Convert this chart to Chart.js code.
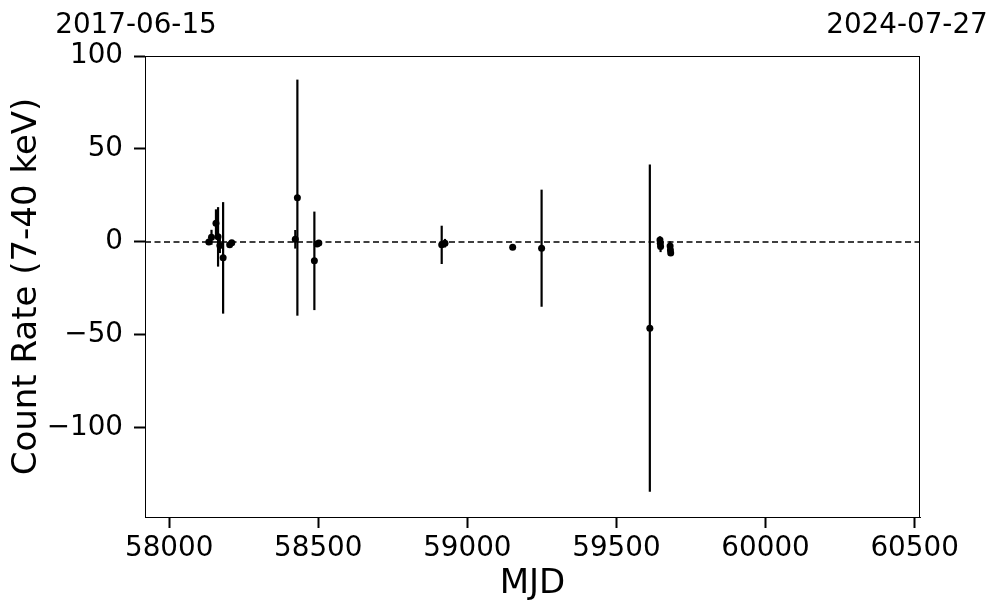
<!DOCTYPE html>
<html>
<head>
<meta charset="utf-8">
<script src="https://cdn.jsdelivr.net/npm/chart.js@4/dist/chart.umd.min.js"></script>
<style>
  html, body { margin: 0; padding: 0; background: #fff; }
  #wrap { width: 997px; height: 613px; }
</style>
</head>
<body>
<div id="wrap"><canvas id="lc"></canvas></div>
<script>
// light curve values
const mjd  = [58133, 58142, 58157, 58164, 58170, 58181, 58203, 58210,
              58423, 58430, 58487, 58496, 58502,
              58914, 58925, 59152, 59249,
              59612, 59646, 59647, 59648, 59680, 59681, 59682];
const rate = [0.0, 2.5, 10.0, 2.7, -2.0, -8.6, -1.5, -0.5,
              1.4, 23.8, -10.2, -1.2, -0.6,
              -1.6, -0.7, -2.9, -3.4,
              -46.4, 1.0, -0.7, -2.5, -2.2, -4.3, -6.0];
const err  = [1.5, 4, 7.5, 16, 4, 30, 1, 1,
              5, 63.5, 26.5, 1, 1,
              10.3, 2.3, 0.8, 31.5,
              88, 2, 3, 3, 2.5, 3, 1.5];
const xTicks = [58000, 58500, 59000, 59500, 60000, 60500];
const yTicks = [-100, -50, 0, 50, 100];
const xRange = [57919, 60518];
const yRange = [-148, 100];
const dateLabels = ['2017-06-15', '2024-07-27'];

const FONT = "'DejaVu Sans', sans-serif";

const points = mjd.map((m, i) => ({ x: m, y: rate[i] }));

// one small line dataset per error bar
const errBars = mjd.map((m, i) => ({
  type: 'scatter',
  showLine: true,
  data: [{ x: m, y: rate[i] - err[i] }, { x: m, y: rate[i] + err[i] }],
  borderColor: '#000',
  borderWidth: 2.2,
  pointRadius: 0
}));

const zeroLine = {
  type: 'scatter',
  showLine: true,
  data: [{ x: xRange[0], y: 0 }, { x: xRange[1], y: 0 }],
  borderColor: '#000',
  borderWidth: 1.5,
  borderDash: [6, 3.5],
  pointRadius: 0
};

// frame round the plot + the two date labels at the top
const extras = {
  id: 'extras',
  afterDraw(chart) {
    const { ctx, chartArea: a } = chart;
    ctx.save();
    ctx.strokeStyle = '#000';
    ctx.lineWidth = 1;
    ctx.strokeRect(a.left + 0.5, a.top + 0.5, a.right - a.left - 1, a.bottom - a.top);
    ctx.fillStyle = '#000';
    ctx.font = "27.8px " + FONT;
    ctx.textBaseline = 'alphabetic';
    ctx.textAlign = 'center';
    ctx.fillText(dateLabels[0], a.left - 9, 33);
    ctx.fillText(dateLabels[1], a.right - 13, 33);
    ctx.restore();
  }
};

new Chart(document.getElementById('lc'), {
  type: 'scatter',
  data: {
    datasets: [
      {
        data: points,
        backgroundColor: '#000',
        borderColor: '#000',
        pointRadius: 3.5,
        pointBorderWidth: 0
      },
      ...errBars,
      zeroLine
    ]
  },
  options: {
    responsive: true,
    maintainAspectRatio: false,
    animation: false,
    layout: { padding: { left: 0, top: 56, right: 77, bottom: 0 } },
    plugins: { legend: { display: false }, tooltip: { enabled: false } },
    scales: {
      x: {
        type: 'linear',
        min: xRange[0],
        max: xRange[1],
        afterBuildTicks: s => { s.ticks = xTicks.map(v => ({ value: v })); },
        afterFit: s => { s.height = 96; },
        grid: { drawOnChartArea: false, tickLength: 11, tickWidth: 2, tickColor: '#000' },
        border: { color: '#000', width: 1 },
        ticks: {
          color: '#000',
          font: { family: FONT, size: 27.8 },
          padding: 4,
          maxRotation: 0,
          callback: v => String(v)
        },
        title: {
          display: true,
          text: 'MJD',
          color: '#000',
          font: { family: FONT, size: 34 },
          padding: { top: 0, bottom: 8 }
        }
      },
      y: {
        min: yRange[0],
        max: yRange[1],
        afterBuildTicks: s => { s.ticks = yTicks.map(v => ({ value: v })); },
        afterFit: s => { s.width = 145; },
        grid: { drawOnChartArea: false, tickLength: 11, tickWidth: 2, tickColor: '#000' },
        border: { color: '#000', width: 1 },
        ticks: {
          color: '#000',
          font: { family: FONT, size: 27.8 },
          padding: 11,
          callback: v => String(v).replace('-', '\u2212')
        },
        title: {
          display: true,
          text: 'Count Rate (7-40 keV)',
          color: '#000',
          font: { family: FONT, size: 34 },
          padding: { top: 7, bottom: 0 }
        }
      }
    }
  },
  plugins: [extras]
});
</script>
</body>
</html>
